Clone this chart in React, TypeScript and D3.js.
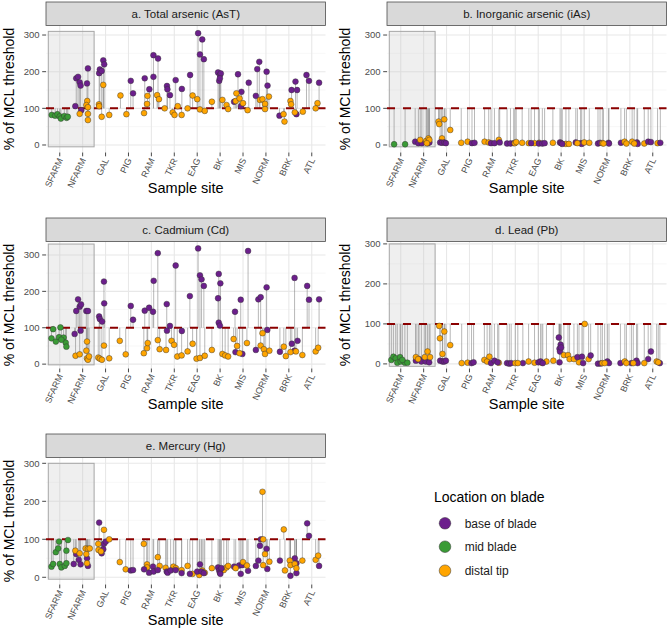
import React from "react";
import * as d3 from "d3";

// ---------- data ----------
const sites = ["SFARM", "NFARM", "GAL", "PIG", "RAM", "TKR", "EAG", "BK", "MIS", "NORM", "BRK", "ATL"];
const locationKeys = ["b", "m", "d"];
const locationLabels = ["base of blade", "mid blade", "distal tip"];
const locationColors = ["#6c1f8c", "#3a9b36", "#ffa500"];
const yTickValues = [0, 100, 200, 300];
const yMinorValues = [50, 150, 250];
const threshold = 100;

// [site, location, jitter (category units), % of MCL threshold]
type Obs = [string, string, number, number];

const totalArsenic: Obs[] = [
  ["SFARM", "m", -0.35, 82], ["SFARM", "m", -0.2, 80], ["SFARM", "m", -0.1, 84], ["SFARM", "m", 0.0, 78],
  ["SFARM", "m", 0.05, 72], ["SFARM", "m", 0.2, 79], ["SFARM", "m", 0.3, 74], ["SFARM", "m", 0.35, 77],
  ["NFARM", "b", -0.32, 106], ["NFARM", "b", -0.28, 182], ["NFARM", "b", -0.2, 186], ["NFARM", "b", -0.13, 171],
  ["NFARM", "b", -0.09, 162], ["NFARM", "b", -0.06, 95], ["NFARM", "b", 0.19, 168], ["NFARM", "b", 0.23, 209],
  ["NFARM", "d", -0.13, 85], ["NFARM", "d", 0.2, 120], ["NFARM", "d", 0.16, 109], ["NFARM", "d", 0.23, 103],
  ["NFARM", "d", 0.23, 85], ["NFARM", "d", 0.23, 68],
  ["GAL", "b", -0.28, 196], ["GAL", "b", -0.25, 206], ["GAL", "b", -0.17, 202], ["GAL", "b", -0.1, 231], ["GAL", "b", -0.06, 220],
  ["GAL", "d", -0.29, 111], ["GAL", "d", -0.28, 106], ["GAL", "d", -0.1, 164], ["GAL", "d", -0.17, 77], ["GAL", "d", 0.16, 82],
  ["PIG", "d", -0.35, 135], ["PIG", "d", -0.09, 84], ["PIG", "b", 0.1, 175], ["PIG", "b", 0.2, 141],
  ["RAM", "b", -0.29, 182], ["RAM", "b", 0.09, 245], ["RAM", "b", 0.09, 186], ["RAM", "b", 0.29, 236], ["RAM", "b", -0.09, 152],
  ["RAM", "d", -0.32, 87], ["RAM", "d", -0.19, 112], ["RAM", "d", -0.17, 134], ["RAM", "d", 0.25, 136], ["RAM", "d", 0.33, 125],
  ["TKR", "b", -0.32, 161], ["TKR", "b", -0.3, 152], ["TKR", "b", -0.19, 136], ["TKR", "b", 0.06, 177], ["TKR", "b", 0.33, 153],
  ["TKR", "d", -0.42, 100], ["TKR", "d", -0.07, 89], ["TKR", "d", 0.01, 82], ["TKR", "d", 0.15, 106], ["TKR", "d", 0.32, 82],
  ["EAG", "b", -0.31, 191], ["EAG", "b", 0.04, 305], ["EAG", "b", 0.12, 247], ["EAG", "b", 0.22, 288], ["EAG", "b", 0.29, 234],
  ["EAG", "d", -0.42, 100], ["EAG", "d", -0.2, 135], ["EAG", "d", 0.0, 125], ["EAG", "d", 0.12, 97], ["EAG", "d", 0.33, 93],
  ["BK", "b", -0.09, 198], ["BK", "b", -0.01, 191], ["BK", "b", 0.03, 195], ["BK", "b", -0.04, 175], ["BK", "b", -0.01, 182],
  ["BK", "d", -0.36, 118], ["BK", "d", 0.1, 123], ["BK", "d", 0.28, 109], ["BK", "d", 0.35, 98],
  ["MIS", "b", -0.39, 118], ["MIS", "b", -0.22, 193], ["MIS", "b", -0.07, 145], ["MIS", "b", -0.09, 106], ["MIS", "b", 0.25, 170],
  ["MIS", "d", -0.32, 120], ["MIS", "d", -0.29, 141], ["MIS", "d", -0.15, 127], ["MIS", "d", 0.0, 114], ["MIS", "d", 0.2, 95],
  ["NORM", "b", -0.44, 134], ["NORM", "b", -0.38, 207], ["NORM", "b", -0.29, 227], ["NORM", "b", 0.03, 200], ["NORM", "b", 0.07, 162],
  ["NORM", "d", -0.26, 123], ["NORM", "d", -0.15, 125], ["NORM", "d", -0.04, 112], ["NORM", "d", 0.13, 132], ["NORM", "d", -0.04, 98],
  ["BRK", "b", -0.41, 80], ["BRK", "b", 0.12, 150], ["BRK", "b", 0.29, 173], ["BRK", "b", 0.36, 150], ["BRK", "b", 0.33, 84],
  ["BRK", "d", 0.07, 120], ["BRK", "d", 0.1, 111], ["BRK", "d", -0.19, 64], ["BRK", "d", -0.23, 84], ["BRK", "d", 0.26, 89],
  ["ATL", "b", -0.23, 191], ["ATL", "b", -0.12, 175], ["ATL", "b", 0.32, 170],
  ["ATL", "d", -0.39, 91], ["ATL", "d", 0.25, 114], ["ATL", "d", 0.17, 100],
];

const inorganicArsenic: Obs[] = [
  ["SFARM", "m", -0.29, 2], ["SFARM", "m", 0.19, 2],
  ["NFARM", "b", -0.37, 9], ["NFARM", "b", -0.23, 5], ["NFARM", "b", -0.08, 5], ["NFARM", "b", 0.18, 5], ["NFARM", "b", 0.25, 7],
  ["NFARM", "d", -0.15, 14], ["NFARM", "d", 0.11, 11], ["NFARM", "d", 0.21, 18], ["NFARM", "d", 0.25, 14], ["NFARM", "d", 0.14, 5],
  ["GAL", "d", -0.35, 64], ["GAL", "d", -0.32, 57], ["GAL", "d", -0.1, 70], ["GAL", "d", 0.16, 41], ["GAL", "d", -0.2, 18],
  ["GAL", "b", -0.28, 7], ["GAL", "b", -0.2, 6], ["GAL", "b", -0.1, 7], ["GAL", "b", -0.03, 5],
  ["PIG", "d", -0.36, 6], ["PIG", "d", -0.08, 9], ["PIG", "b", 0.11, 5], ["PIG", "b", 0.22, 6],
  ["RAM", "d", -0.34, 9], ["RAM", "d", -0.16, 7], ["RAM", "d", 0.28, 14], ["RAM", "b", -0.06, 5], ["RAM", "b", 0.09, 5], ["RAM", "b", 0.32, 7],
  ["TKR", "b", -0.36, 4], ["TKR", "b", -0.21, 4], ["TKR", "b", -0.07, 5], ["TKR", "d", -0.02, 5], ["TKR", "d", 0.04, 8], ["TKR", "d", 0.3, 6],
  ["EAG", "d", -0.41, 5], ["EAG", "d", -0.16, 5], ["EAG", "d", 0.04, 6], ["EAG", "b", -0.31, 5], ["EAG", "b", 0.03, 4], ["EAG", "b", 0.18, 4], ["EAG", "b", 0.28, 5],
  ["BK", "d", -0.36, 6], ["BK", "d", 0.21, 3], ["BK", "d", 0.34, 3], ["BK", "b", -0.05, 7], ["BK", "b", 0.0, 5], ["BK", "b", 0.05, 3],
  ["MIS", "b", -0.36, 7], ["MIS", "b", -0.15, 5], ["MIS", "b", -0.1, 3], ["MIS", "d", -0.29, 5], ["MIS", "d", 0.01, 7], ["MIS", "d", 0.23, 6],
  ["NORM", "b", -0.39, 4], ["NORM", "b", -0.3, 6], ["NORM", "b", 0.07, 6], ["NORM", "b", 0.09, 4], ["NORM", "d", -0.2, 5], ["NORM", "d", -0.15, 4],
  ["BRK", "b", -0.39, 6], ["BRK", "b", 0.31, 7], ["BRK", "b", 0.34, 3], ["BRK", "d", -0.23, 9], ["BRK", "d", -0.15, 4], ["BRK", "d", 0.1, 9], ["BRK", "d", 0.19, 4],
  ["ATL", "d", -0.37, 4], ["ATL", "d", 0.21, 5], ["ATL", "b", -0.2, 9], ["ATL", "b", -0.08, 8], ["ATL", "b", 0.33, 6],
];

const cadmium: Obs[] = [
  ["SFARM", "m", -0.29, 96], ["SFARM", "m", -0.36, 71], ["SFARM", "m", -0.17, 62], ["SFARM", "m", -0.03, 74], ["SFARM", "m", 0.03, 101],
  ["SFARM", "m", 0.17, 73], ["SFARM", "m", 0.26, 59], ["SFARM", "m", 0.29, 48], ["SFARM", "m", 0.07, 67],
  ["NFARM", "b", -0.35, 83], ["NFARM", "b", -0.28, 146], ["NFARM", "b", -0.2, 178], ["NFARM", "b", -0.13, 158], ["NFARM", "b", -0.07, 164],
  ["NFARM", "b", -0.09, 92], ["NFARM", "b", 0.16, 146], ["NFARM", "b", 0.23, 146],
  ["NFARM", "d", -0.31, 23], ["NFARM", "d", -0.13, 27], ["NFARM", "d", 0.19, 62], ["NFARM", "d", 0.16, 37], ["NFARM", "d", 0.19, 16],
  ["NFARM", "d", 0.23, 12], ["NFARM", "d", 0.28, 21],
  ["GAL", "b", -0.28, 131], ["GAL", "b", -0.25, 124], ["GAL", "b", -0.15, 117], ["GAL", "b", -0.07, 227], ["GAL", "b", -0.06, 167],
  ["GAL", "d", -0.32, 18], ["GAL", "d", -0.25, 15], ["GAL", "d", -0.16, 12], ["GAL", "d", -0.07, 51], ["GAL", "d", 0.16, 16],
  ["PIG", "d", -0.38, 64], ["PIG", "d", -0.12, 27], ["PIG", "b", 0.1, 160], ["PIG", "b", 0.2, 122],
  ["RAM", "b", -0.29, 147], ["RAM", "b", -0.1, 155], ["RAM", "b", 0.07, 144], ["RAM", "b", 0.1, 229], ["RAM", "b", 0.28, 305],
  ["RAM", "d", -0.33, 30], ["RAM", "d", -0.19, 44], ["RAM", "d", -0.16, 58], ["RAM", "d", 0.28, 66], ["RAM", "d", 0.36, 41],
  ["TKR", "b", -0.33, 165], ["TKR", "b", -0.19, 105], ["TKR", "b", -0.32, 92], ["TKR", "b", 0.06, 271], ["TKR", "b", 0.33, 91],
  ["TKR", "d", -0.36, 39], ["TKR", "d", -0.12, 64], ["TKR", "d", -0.01, 53], ["TKR", "d", 0.13, 21], ["TKR", "d", 0.32, 24],
  ["EAG", "b", -0.32, 187], ["EAG", "b", 0.04, 318], ["EAG", "b", 0.12, 244], ["EAG", "b", 0.19, 233], ["EAG", "b", 0.29, 215],
  ["EAG", "d", -0.42, 35], ["EAG", "d", -0.2, 56], ["EAG", "d", -0.03, 15], ["EAG", "d", 0.12, 17], ["EAG", "d", 0.33, 23],
  ["BK", "b", -0.09, 181], ["BK", "b", -0.06, 248], ["BK", "b", 0.01, 222], ["BK", "b", -0.06, 114], ["BK", "b", -0.01, 106],
  ["BK", "d", -0.36, 39], ["BK", "d", 0.1, 28], ["BK", "d", 0.22, 24], ["BK", "d", 0.35, 21],
  ["MIS", "b", -0.35, 144], ["MIS", "b", -0.33, 33], ["MIS", "b", -0.1, 177], ["MIS", "b", -0.03, 28], ["MIS", "b", 0.22, 311],
  ["MIS", "d", -0.41, 69], ["MIS", "d", -0.26, 50], ["MIS", "d", -0.15, 30], ["MIS", "d", 0.17, 58],
  ["NORM", "b", -0.44, 39], ["NORM", "b", -0.33, 178], ["NORM", "b", -0.23, 184], ["NORM", "b", 0.03, 211], ["NORM", "b", 0.06, 94],
  ["NORM", "d", -0.23, 51], ["NORM", "d", -0.15, 85], ["NORM", "d", -0.09, 41], ["NORM", "d", -0.04, 28], ["NORM", "d", 0.15, 37],
  ["BRK", "b", -0.39, 34], ["BRK", "b", 0.13, 56], ["BRK", "b", 0.25, 237], ["BRK", "b", 0.38, 64], ["BRK", "b", 0.25, 37],
  ["BRK", "d", -0.22, 48], ["BRK", "d", -0.13, 22], ["BRK", "d", 0.07, 33], ["BRK", "d", 0.31, 35],
  ["ATL", "b", -0.2, 215], ["ATL", "b", -0.12, 177], ["ATL", "b", 0.32, 178],
  ["ATL", "d", -0.41, 25], ["ATL", "d", 0.17, 35], ["ATL", "d", 0.28, 45],
];

const lead: Obs[] = [
  ["SFARM", "m", -0.41, 10], ["SFARM", "m", -0.32, 18], ["SFARM", "m", -0.22, 14], ["SFARM", "m", -0.15, 3], ["SFARM", "m", -0.03, 17],
  ["SFARM", "m", 0.0, 6], ["SFARM", "m", 0.18, 3], ["SFARM", "m", 0.29, 3], ["SFARM", "m", 0.07, 10],
  ["NFARM", "b", -0.34, 8], ["NFARM", "b", -0.2, 12], ["NFARM", "b", -0.1, 6], ["NFARM", "b", 0.09, 6], ["NFARM", "b", 0.24, 4],
  ["NFARM", "d", -0.34, 17], ["NFARM", "d", -0.24, 12], ["NFARM", "d", 0.05, 17], ["NFARM", "d", 0.17, 31], ["NFARM", "d", 0.28, 17],
  ["GAL", "d", -0.32, 95], ["GAL", "d", -0.29, 64], ["GAL", "d", -0.18, 25], ["GAL", "d", -0.1, 81], ["GAL", "d", 0.16, 47],
  ["GAL", "b", -0.28, 8], ["GAL", "b", -0.18, 6], ["GAL", "b", -0.1, 6], ["GAL", "b", -0.03, 8],
  ["PIG", "d", -0.34, 2], ["PIG", "d", -0.08, 3], ["PIG", "b", 0.09, 2], ["PIG", "b", 0.18, 4],
  ["RAM", "d", -0.35, 10], ["RAM", "d", -0.23, 6], ["RAM", "d", -0.13, 18], ["RAM", "d", 0.28, 3],
  ["RAM", "b", -0.06, 2], ["RAM", "b", 0.09, 8], ["RAM", "b", 0.23, 4],
  ["TKR", "b", -0.36, 2], ["TKR", "b", -0.26, 0.5], ["TKR", "b", -0.18, 2], ["TKR", "b", 0.33, 2], ["TKR", "d", 0.0, 2], ["TKR", "d", 0.11, 2],
  ["EAG", "d", -0.42, 6], ["EAG", "d", -0.16, 3], ["EAG", "d", 0.16, 3], ["EAG", "d", 0.36, 6], ["EAG", "b", 0.01, 4], ["EAG", "b", 0.1, 6], ["EAG", "b", 0.2, 2],
  ["BK", "b", -0.1, 66], ["BK", "b", -0.02, 48], ["BK", "b", -0.07, 38], ["BK", "b", -0.05, 31], ["BK", "b", -0.07, 4], ["BK", "b", 0.0, 41],
  ["BK", "d", -0.34, 8], ["BK", "d", 0.12, 22], ["BK", "d", 0.3, 22], ["BK", "d", 0.37, 12],
  ["MIS", "d", -0.44, 12], ["MIS", "d", -0.22, 4], ["MIS", "d", 0.03, 100], ["MIS", "d", 0.2, 12],
  ["MIS", "b", -0.29, 17], ["MIS", "b", -0.09, 18], ["MIS", "b", -0.04, 2], ["MIS", "b", 0.29, 21],
  ["NORM", "b", -0.39, 0.5], ["NORM", "b", -0.27, 1], ["NORM", "b", 0.02, 6], ["NORM", "b", 0.09, 2], ["NORM", "d", -0.2, 2], ["NORM", "d", -0.1, 2],
  ["BRK", "b", -0.41, 2], ["BRK", "b", 0.07, 2], ["BRK", "b", 0.29, 8], ["BRK", "b", 0.34, 2], ["BRK", "d", -0.22, 6], ["BRK", "d", -0.15, 2], ["BRK", "d", 0.15, 2],
  ["ATL", "b", -0.2, 12], ["ATL", "b", -0.08, 31], ["ATL", "b", 0.31, 2], ["ATL", "d", -0.37, 2], ["ATL", "d", 0.17, 6], ["ATL", "d", 0.24, 4],
];

const mercury: Obs[] = [
  ["SFARM", "m", -0.36, 28], ["SFARM", "m", -0.29, 35], ["SFARM", "m", -0.17, 66], ["SFARM", "m", -0.07, 76], ["SFARM", "m", -0.03, 94],
  ["SFARM", "m", 0.0, 35], ["SFARM", "m", 0.07, 26], ["SFARM", "m", 0.22, 30], ["SFARM", "m", 0.29, 37], ["SFARM", "m", 0.29, 70], ["SFARM", "m", 0.36, 98],
  ["NFARM", "b", -0.39, 35], ["NFARM", "b", -0.28, 61], ["NFARM", "b", -0.17, 46], ["NFARM", "b", -0.09, 34], ["NFARM", "b", 0.19, 50], ["NFARM", "b", 0.23, 30],
  ["NFARM", "d", -0.32, 70], ["NFARM", "d", -0.13, 63], ["NFARM", "d", 0.13, 76], ["NFARM", "d", 0.16, 61], ["NFARM", "d", 0.23, 75],
  ["NFARM", "d", 0.31, 76], ["NFARM", "d", 0.19, 37],
  ["GAL", "b", -0.28, 144], ["GAL", "b", -0.17, 63], ["GAL", "b", -0.1, 74], ["GAL", "b", -0.07, 88], ["GAL", "b", 0.01, 94],
  ["GAL", "d", -0.32, 88], ["GAL", "d", -0.31, 72], ["GAL", "d", -0.2, 68], ["GAL", "d", -0.07, 125], ["GAL", "d", 0.16, 100],
  ["PIG", "d", -0.38, 40], ["PIG", "d", -0.12, 21], ["PIG", "b", 0.1, 18], ["PIG", "b", 0.2, 19],
  ["RAM", "d", -0.33, 88], ["RAM", "d", -0.19, 34], ["RAM", "d", -0.19, 26], ["RAM", "d", 0.28, 53], ["RAM", "d", 0.36, 30],
  ["RAM", "b", -0.32, 21], ["RAM", "b", -0.1, 12], ["RAM", "b", 0.07, 28], ["RAM", "b", 0.1, 15], ["RAM", "b", 0.28, 19],
  ["TKR", "d", -0.38, 25], ["TKR", "d", -0.04, 28], ["TKR", "d", 0.07, 24], ["TKR", "d", 0.32, 19],
  ["TKR", "b", -0.33, 15], ["TKR", "b", -0.29, 12], ["TKR", "b", -0.16, 18], ["TKR", "b", 0.06, 19], ["TKR", "b", 0.32, 11],
  ["EAG", "d", -0.42, 30], ["EAG", "d", -0.2, 9], ["EAG", "d", 0.09, 6], ["EAG", "d", 0.22, 18], ["EAG", "d", 0.33, 12],
  ["EAG", "b", -0.32, 9], ["EAG", "b", 0.0, 15], ["EAG", "b", 0.12, 34], ["EAG", "b", 0.19, 15], ["EAG", "b", 0.29, 11],
  ["BK", "d", -0.36, 24], ["BK", "d", 0.16, 19], ["BK", "d", 0.28, 26], ["BK", "d", 0.35, 30],
  ["BK", "b", -0.09, 26], ["BK", "b", -0.04, 18], ["BK", "b", -0.01, 12], ["BK", "b", 0.01, 9], ["BK", "b", 0.06, 24],
  ["MIS", "b", -0.39, 28], ["MIS", "b", -0.17, 31], ["MIS", "b", -0.1, 9], ["MIS", "b", -0.04, 32], ["MIS", "b", 0.22, 17],
  ["MIS", "d", -0.32, 24], ["MIS", "d", 0.0, 40], ["MIS", "d", 0.17, 31],
  ["NORM", "b", -0.44, 30], ["NORM", "b", -0.33, 44], ["NORM", "b", -0.26, 83], ["NORM", "b", -0.22, 100], ["NORM", "b", 0.03, 75], ["NORM", "b", 0.06, 22],
  ["NORM", "d", -0.15, 225], ["NORM", "d", -0.12, 100], ["NORM", "d", -0.04, 61], ["NORM", "d", -0.12, 32], ["NORM", "d", 0.15, 41],
  ["BRK", "b", -0.39, 44], ["BRK", "b", 0.07, 4], ["BRK", "b", 0.26, 50], ["BRK", "b", 0.33, 37], ["BRK", "b", 0.33, 11],
  ["BRK", "d", -0.22, 126], ["BRK", "d", -0.17, 18], ["BRK", "d", 0.04, 44], ["BRK", "d", 0.07, 32], ["BRK", "d", 0.26, 35], ["BRK", "d", 0.33, 24],
  ["ATL", "b", -0.2, 142], ["ATL", "b", -0.12, 109], ["ATL", "b", 0.32, 30],
  ["ATL", "d", -0.41, 44], ["ATL", "d", 0.17, 46], ["ATL", "d", 0.28, 57],
];

const panelTitles = ["a. Total arsenic (AsT)", "b. Inorganic arsenic (iAs)", "c. Cadmium (Cd)", "d. Lead (Pb)", "e. Mercury (Hg)"];
const panelData = [totalArsenic, inorganicArsenic, cadmium, lead, mercury];

// ---------- layout ----------
const W = 668;
const H = 631;
const FONT = "'Liberation Sans', Arial, Helvetica, sans-serif";
const colLeft = [46, 387];
const panelW = 279.5;
const stripTops = [2, 218, 434];
const stripH = 23.5;
const panelH = 127;
// per-panel y extent (free y scales) and shaded reference-site box extent
const yDomains: [number, number][] = [[-20.5, 326], [-20.5, 326], [-12, 337], [-11.5, 306], [-19, 315.3]];
const boxExtents: [number, number][] = [[-5, 310], [-5, 310], [-2, 330], [-6, 300], [-5, 300]];

function Panel({ idx }: { idx: number }) {
  const col = idx % 2;
  const row = Math.floor(idx / 2);
  const L = colLeft[col];
  const R = L + panelW;
  const sTop = stripTops[row];
  const top = sTop + stripH;
  const bottom = top + panelH;
  const x = d3.scaleLinear().domain([0.4, sites.length + 0.6]).range([L, R]);
  const y = d3.scaleLinear().domain(yDomains[idx]).range([bottom, top]);
  const data = panelData[idx];
  const colorOf = (k: string) => locationColors[locationKeys.indexOf(k)];
  const siteX = (s: string) => x(sites.indexOf(s) + 1);
  const [bLo, bHi] = boxExtents[idx];
  const midY = (top + bottom) / 2;
  const titleX = col === 0 ? 13.5 : 349.5;
  return (
    <g>
      {/* grid */}
      {yMinorValues.map((v) => (
        <line key={"mn" + v} x1={L} x2={R} y1={y(v)} y2={y(v)} stroke="#f2f2f2" strokeWidth={0.6} />
      ))}
      {yTickValues.map((v) => (
        <line key={"mj" + v} x1={L} x2={R} y1={y(v)} y2={y(v)} stroke="#e8e8e8" strokeWidth={1.1} />
      ))}
      {sites.map((s) => (
        <line key={"vx" + s} x1={siteX(s)} x2={siteX(s)} y1={top} y2={bottom} stroke="#e8e8e8" strokeWidth={1.1} />
      ))}
      {/* reference-site box */}
      <rect
        x={x(0.5)}
        y={y(bHi)}
        width={x(2.5) - x(0.5)}
        height={y(bLo) - y(bHi)}
        fill="rgba(190,190,190,0.25)"
        stroke="#a6a6a6"
        strokeWidth={1}
      />
      {/* segments from the threshold */}
      {data.map((d, i) => {
        const px = x(sites.indexOf(d[0]) + 1 + d[2]);
        return (
          <line key={"sg" + i} x1={px} x2={px} y1={y(threshold)} y2={y(d[3])} stroke="#7a7a7a" strokeOpacity={0.6} strokeWidth={0.9} />
        );
      })}
      {/* threshold line */}
      <line x1={L} x2={R} y1={y(threshold)} y2={y(threshold)} stroke="#8b0000" strokeWidth={2} strokeDasharray="8 8" />
      {/* points */}
      {data.map((d, i) => (
        <circle
          key={"pt" + i}
          cx={x(sites.indexOf(d[0]) + 1 + d[2])}
          cy={y(d[3])}
          r={2.9}
          fill={colorOf(d[1])}
          stroke="#333"
          strokeWidth={0.45}
        />
      ))}
      {/* strip */}
      <rect x={L} y={sTop} width={panelW} height={stripH} fill="#d9d9d9" stroke="#4d4d4d" strokeWidth={0.8} />
      <text x={(L + R) / 2} y={sTop + stripH / 2 + 4} textAnchor="middle" fontSize={11.5} fill="#1a1a1a" fontFamily={FONT}>
        {panelTitles[idx]}
      </text>
      {/* y axis */}
      {yTickValues.map((v) => (
        <g key={"yt" + v}>
          <line x1={L - 3.8} x2={L} y1={y(v)} y2={y(v)} stroke="#333" strokeWidth={0.9} />
          <text x={L - 6.5} y={y(v) + 3.3} textAnchor="end" fontSize={9.5} fill="#4d4d4d" fontFamily={FONT}>
            {v}
          </text>
        </g>
      ))}
      {/* x axis */}
      {sites.map((s) => (
        <g key={"xt" + s}>
          <line x1={siteX(s)} x2={siteX(s)} y1={bottom} y2={bottom + 3.8} stroke="#333" strokeWidth={0.9} />
          <text
            transform={`translate(${siteX(s) + 3.5},${bottom + 7.5}) rotate(-65)`}
            textAnchor="end"
            fontSize={9}
            fill="#4d4d4d"
            fontFamily={FONT}
          >
            {s}
          </text>
        </g>
      ))}
      <text x={(L + R) / 2} y={bottom + 40.5} textAnchor="middle" fontSize={14.5} fill="#000" fontFamily={FONT}>
        Sample site
      </text>
      <text transform={`translate(${titleX},${midY}) rotate(-90)`} textAnchor="middle" fontSize={14} fill="#000" fontFamily={FONT}>
        % of MCL threshold
      </text>
    </g>
  );
}

function Legend() {
  const lx = 434;
  const ty = 502;
  const keyYs = [523.3, 546.7, 570.7];
  return (
    <g fontFamily={FONT}>
      <text x={lx} y={ty} fontSize={14} fill="#000">
        Location on blade
      </text>
      {locationLabels.map((lab, i) => (
        <g key={lab}>
          <circle cx={445} cy={keyYs[i]} r={5.8} fill={locationColors[i]} stroke="#333" strokeWidth={0.5} />
          <text x={464.7} y={keyYs[i] + 4.2} fontSize={12} fill="#1a1a1a">
            {lab}
          </text>
        </g>
      ))}
    </g>
  );
}

export default function App() {
  return (
    <svg
      width={W}
      height={H}
      viewBox={`0 0 ${W} ${H}`}
      style={{ position: "absolute", left: 0, top: 0, background: "#fff" }}
    >
      <rect x={0} y={0} width={W} height={H} fill="#fff" />
      {panelTitles.map((_, i) => (
        <Panel key={i} idx={i} />
      ))}
      <Legend />
    </svg>
  );
}
